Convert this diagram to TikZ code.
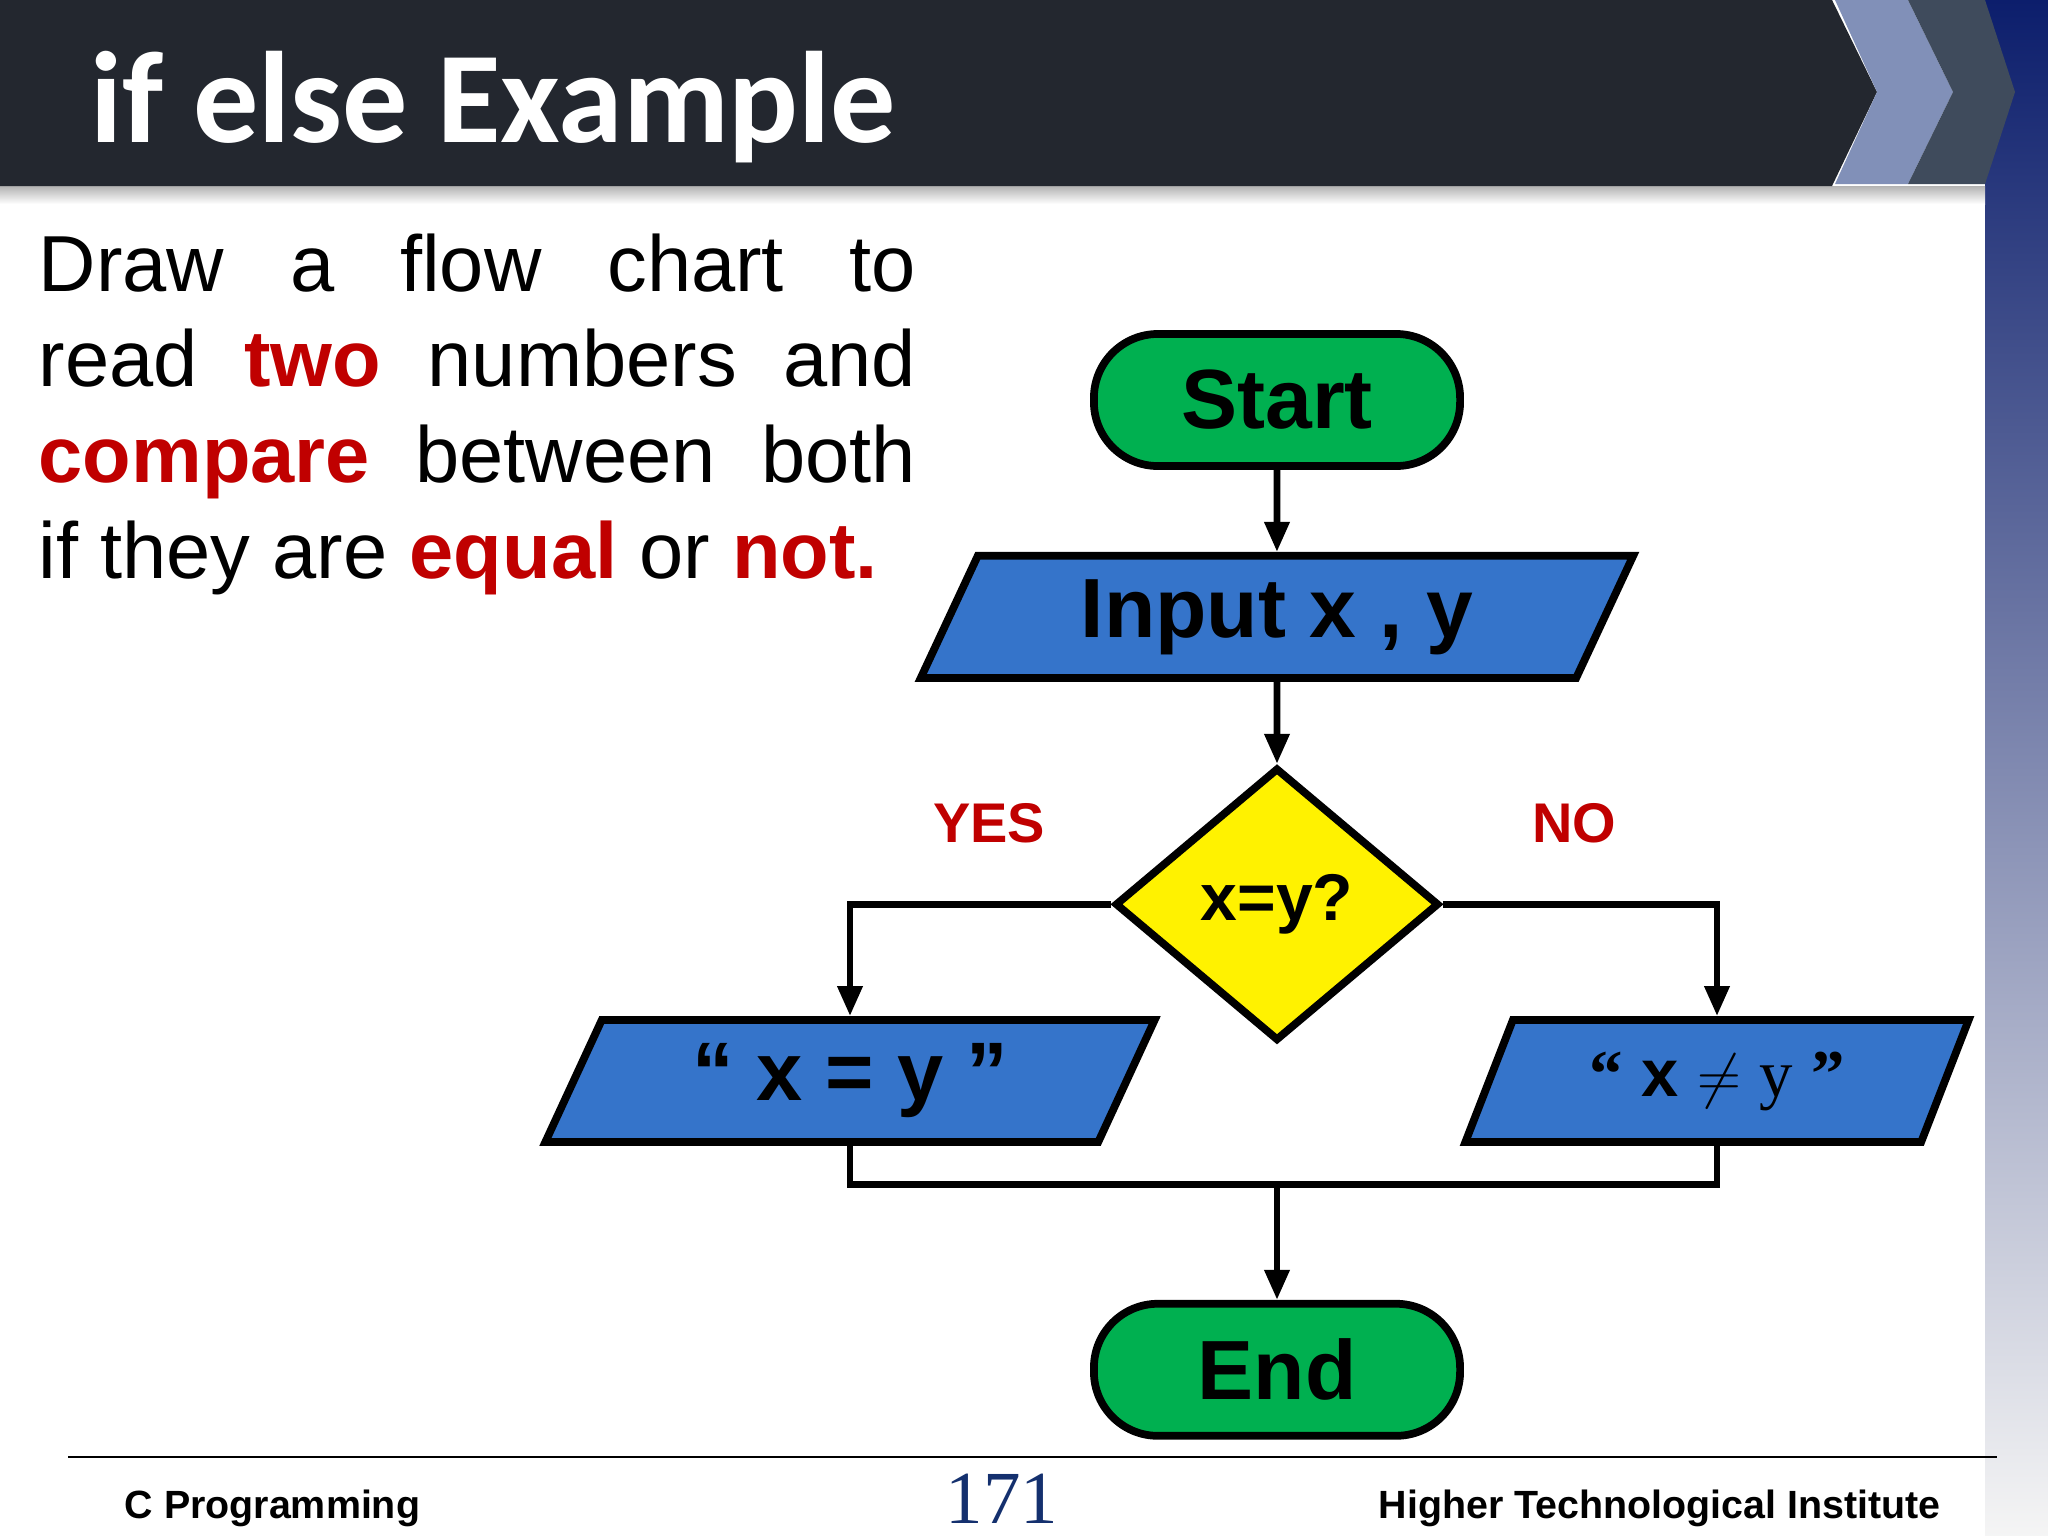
\documentclass[tikz,border=0pt]{standalone}
\usepackage{fontspec}
\setmainfont{Liberation Sans}
\newfontfamily\titlefont{Carlito}
\newfontfamily\numfont{Liberation Serif}
\usetikzlibrary{shapes.geometric,arrows.meta,positioning}

\definecolor{barcol}{HTML}{23272F}
\definecolor{chevlight}{HTML}{8190B8}
\definecolor{chevdark}{HTML}{3F4B5C}
\definecolor{bandtop}{HTML}{0C1E6C}
\definecolor{bandmid}{HTML}{A6A8BA}
\definecolor{termgreen}{HTML}{00B050}
\definecolor{iob}{HTML}{3574CA}
\definecolor{hilite}{HTML}{C00000}
\definecolor{pagenum}{HTML}{14306E}

\newcommand{\redword}[1]{{\bfseries\color{hilite}#1}}

\tikzset{
  shape line/.style={draw, line width=2.2pt},
  term/.style={shape line, fill=termgreen, rectangle, rounded corners=0.64cm,
    minimum width=3.66cm, minimum height=1.32cm,
    font=\fontsize{23.9}{26}\selectfont\bfseries},
  io/.style={shape line, fill=iob, trapezium, trapezium left angle=60,
    trapezium right angle=120, trapezium stretches body, minimum height=1.22cm},
  decision/.style={shape line, fill=yellow, diamond, aspect=1.18,
    minimum width=3.24cm, minimum height=2.73cm, inner sep=0pt,
    font=\fontsize{18.8}{20}\selectfont\bfseries},
  lbl/.style={text=hilite, font=\fontsize{15.9}{18}\selectfont\bfseries},
  flow/.style={line width=1.9pt, -{Triangle[length=0.3cm, width=0.24cm]}},
  link/.style={line width=1.9pt},
}

\begin{document}
\begin{tikzpicture}[x=0.01cm, y=-0.01cm]
  \useasboundingbox (0,0) rectangle (2048,1536);

  % Background and title bar
  \fill[white] (0,0) rectangle (2048,1536);
  \shade[top color=bandtop, middle color=bandmid, bottom color=white!96!black]
    (1985,0) rectangle (2048,1536);
  \shade[top color=black!30, bottom color=white] (0,186) rectangle (1985,204);
  \fill[barcol] (0,0) -- (1832,0) -- (1877,92) -- (1832,186) -- (0,186) -- cycle;
  \fill[chevlight] (1835,0) -- (1908,0) -- (1953,92) -- (1908,184) -- (1835,184) -- (1877,92) -- cycle;
  \fill[chevdark] (1908,0) -- (1985,0) -- (2015,92) -- (1985,184) -- (1908,184) -- (1953,92) -- cycle;
  \node[anchor=base west, inner sep=0pt, text=white,
    font=\titlefont\fontsize{37}{40}\selectfont\bfseries] (title) at (90,142) {if else Example};

  % Task text
  \node[anchor=north west, inner sep=0pt, text width=8.77cm, align=justify,
    font=\fontsize{22.6}{27.2}\selectfont] (task) at (38,233)
    {Draw a flow chart to\linebreak read \redword{two} numbers and\linebreak
     \redword{compare} between both\linebreak if they are \redword{equal} or \redword{not.}};

  % Define nodes
  \node[term]                                  (start) at (1277,400) {Start};
  \node[io, minimum width=7.12cm, below=0.82cm of start,
    font=\fontsize{23.9}{26}\selectfont\bfseries] (input) {Input x , y};
  \node[decision, below=0.82cm of input]       (dec)   {x=y?};
  \node[io, minimum width=6.09cm,
    font=\fontsize{23.6}{26}\selectfont\bfseries] (eq) at (850,1081) {“ x = y ”};
  \node[io, minimum width=5.03cm,
    font=\fontsize{19}{22}\selectfont\bfseries] (neq) at (1717,1081)
    {{\numfont “} x $\neq$ {\numfont\mdseries y} {\numfont ”}};
  \node[term, below=2.55cm of dec]             (end)   {End};
  \coordinate[below=1.4cm of dec]              (join);
  \node[lbl] (yes) at (989,823)  {YES};
  \node[lbl] (no)  at (1574,823) {NO};

  % Connect the nodes
  \draw[flow] (start.south) -- (input.center |- input.north);
  \draw[flow] (input.center |- input.south) -- (dec.north);
  \draw[flow] (dec.west) -| (eq.center |- eq.north);
  \draw[flow] (dec.east) -| (neq.center |- neq.north);
  \draw[link] (eq.center |- eq.south) |- (join) -| (neq.center |- neq.south);
  \draw[flow] (join) -- (end.north);

  % Footer
  \draw[line width=0.8pt] (68,1457) -- (1997,1457);
  \node[anchor=base west, inner sep=0pt, font=\fontsize{11.2}{13}\selectfont\bfseries]
    (course) at (124,1518) {C Programming};
  \node[anchor=base, inner sep=0pt, text=pagenum, font=\numfont\fontsize{21.3}{24}\selectfont]
    (page) at (1002,1523) {171};
  \node[anchor=base east, inner sep=0pt, font=\fontsize{11.2}{13}\selectfont\bfseries]
    (inst) at (1941,1518) {Higher Technological Institute};
\end{tikzpicture}
\end{document}
